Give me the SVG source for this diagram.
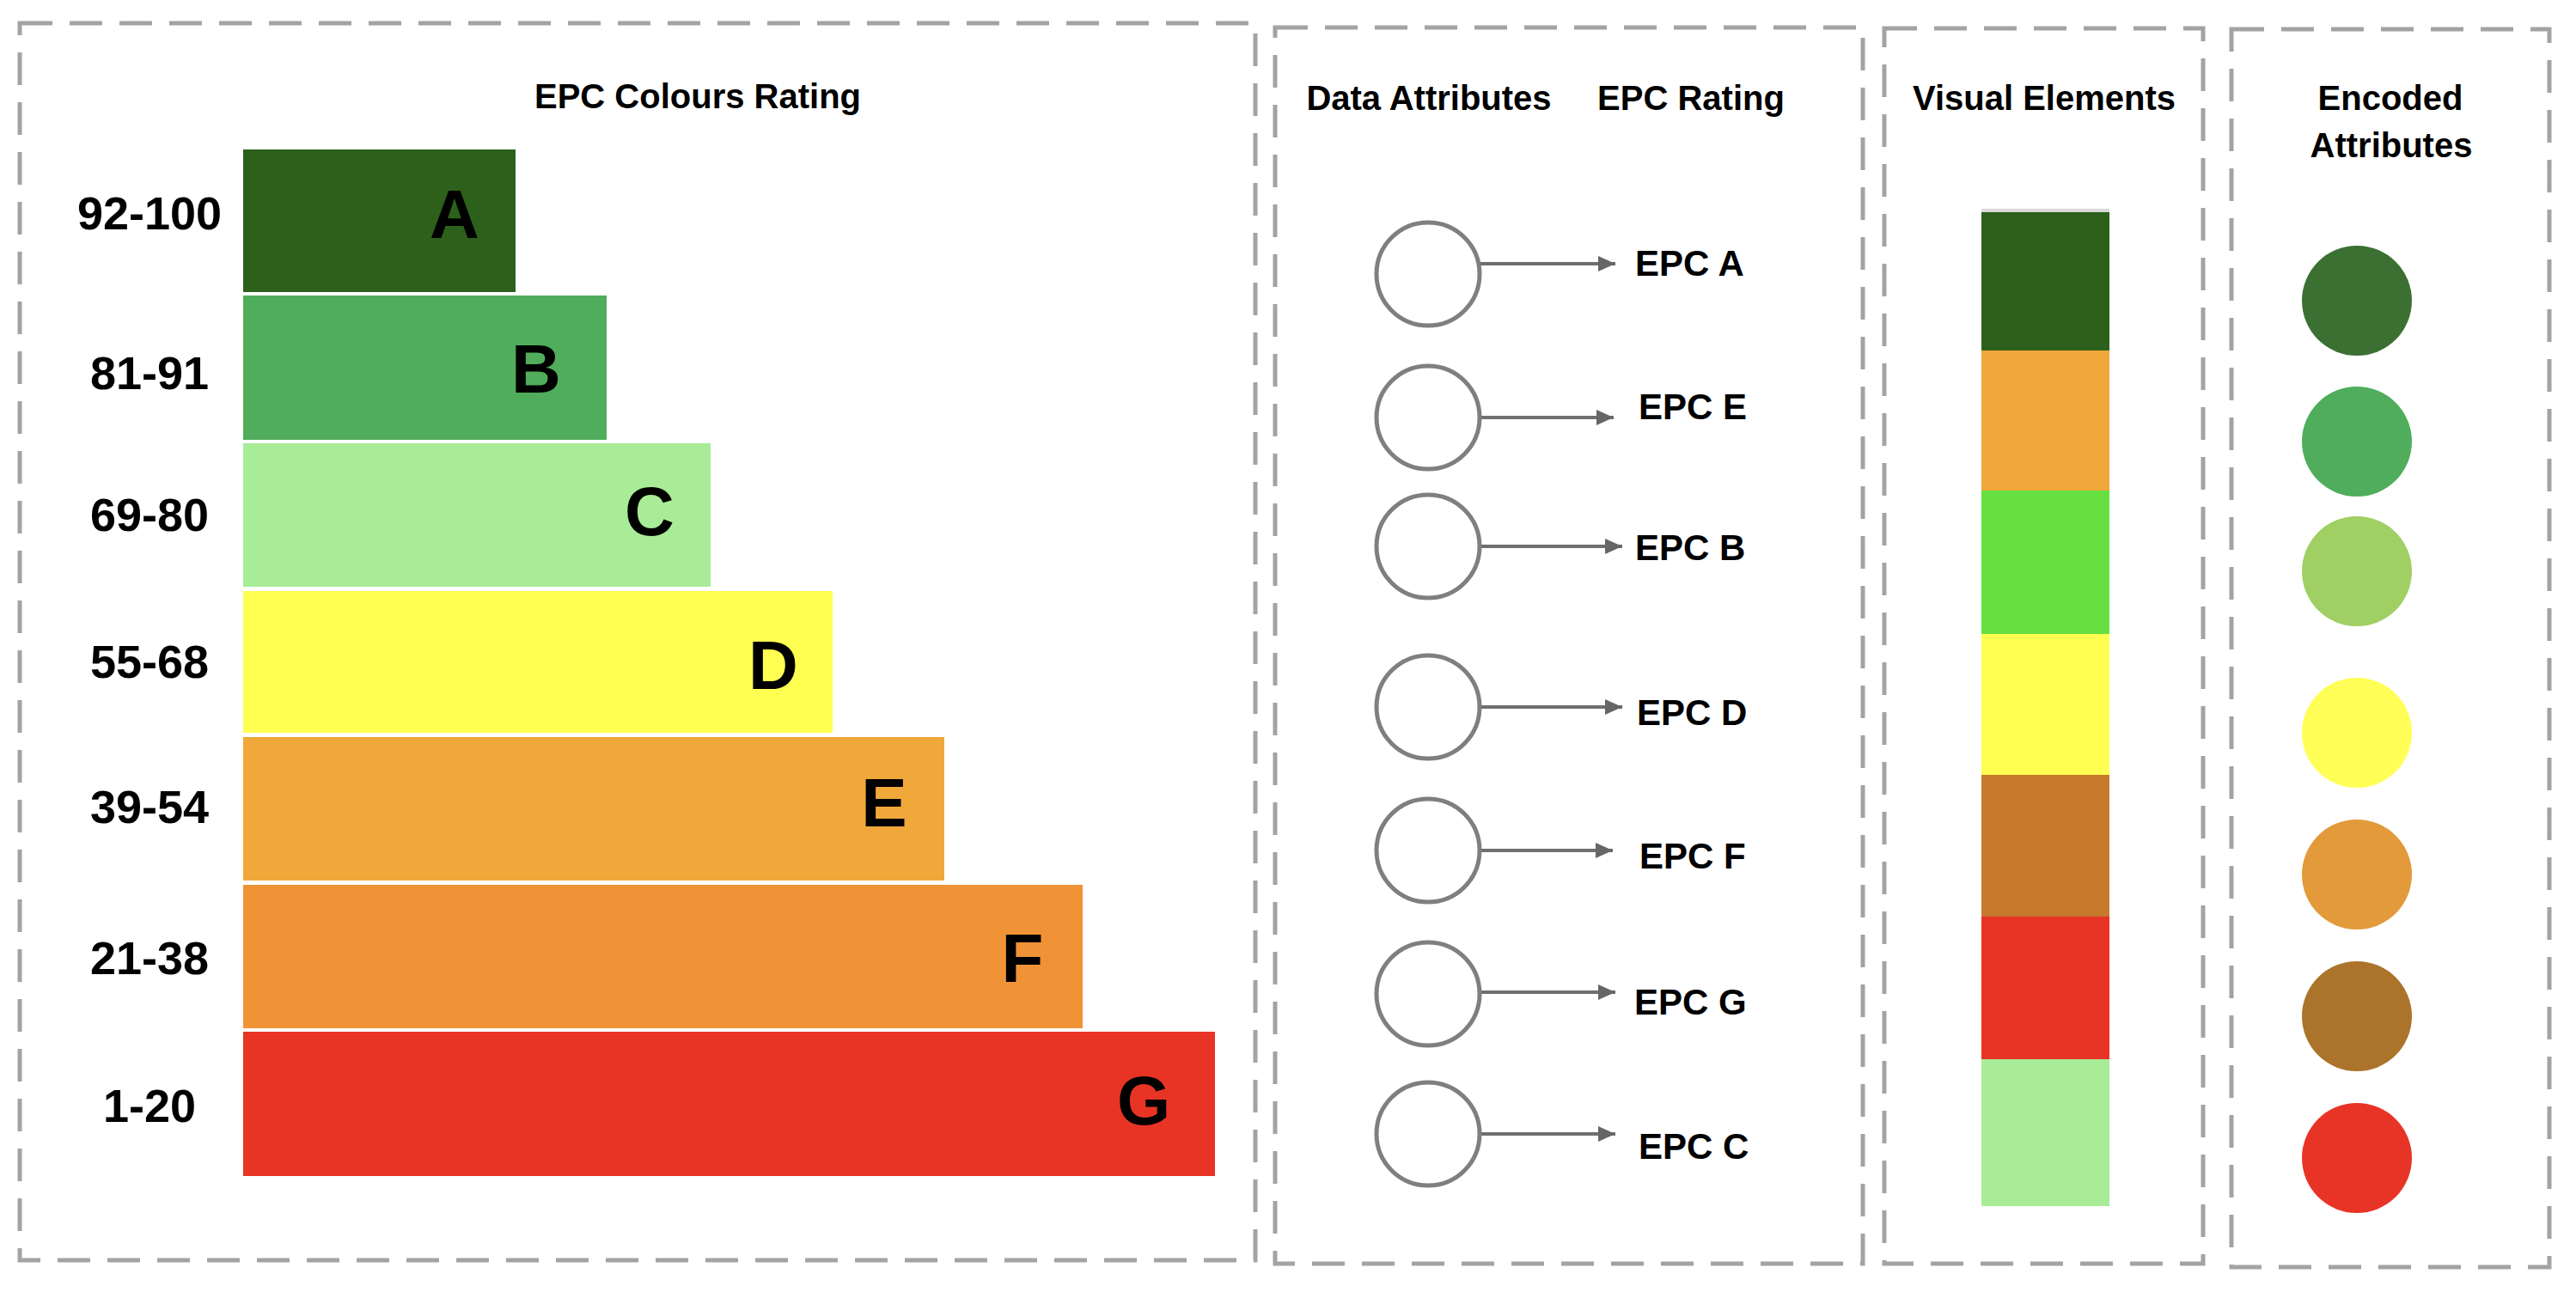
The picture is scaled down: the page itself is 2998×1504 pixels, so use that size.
<svg xmlns="http://www.w3.org/2000/svg" width="2998" height="1504" viewBox="0 0 2998 1504">
<style>
.panel{fill:none;stroke:#a3a3a3;stroke-width:5;stroke-dasharray:38 20}
.hdr{font-family:"Liberation Sans",Arial,sans-serif;font-weight:bold;font-size:40px;fill:#000;text-anchor:middle}
.rng{font-family:"Liberation Sans",Arial,sans-serif;font-weight:bold;font-size:54px;fill:#000;text-anchor:middle}
.let{font-family:"Liberation Sans",Arial,sans-serif;font-weight:bold;font-size:80px;fill:#000;text-anchor:middle}
.lab{font-family:"Liberation Sans",Arial,sans-serif;font-weight:bold;font-size:42px;fill:#000}
.attr{fill:#fff;stroke:#7f7f7f;stroke-width:5}
.conn{stroke:#6f6f6f;stroke-width:4;fill:none}
</style>
<defs>
<marker id="arr" markerUnits="userSpaceOnUse" markerWidth="22" markerHeight="20" refX="20" refY="10" orient="auto">
<path d="M0,1 L20,10 L0,19 Z" fill="#666"/>
</marker>
</defs>
<rect width="2998" height="1504" fill="#fff"/>

<g id="panel-epc-colours">
<rect class="panel" x="23" y="27" width="1438" height="1440"/>
<text class="hdr" x="812" y="126" font-size="38">EPC Colours Rating</text>
</g>
<g id="panel-data-attributes">
<rect class="panel" x="1484" y="32" width="684" height="1439"/>
<text class="hdr" x="1663" y="128">Data Attributes</text>
<text class="hdr" x="1968" y="128">EPC Rating</text>
</g>
<g id="panel-visual-elements">
<rect class="panel" x="2193" y="33" width="371" height="1438"/>
<text class="hdr" x="2379" y="128">Visual Elements</text>
</g>
<g id="panel-encoded-attributes">
<rect class="panel" x="2597" y="34" width="370" height="1441"/>
<text class="hdr" x="2782" y="128">Encoded</text>
<text class="hdr" x="2783" y="183">Attributes</text>
</g>

<g id="bar-A"><rect x="283" y="174" width="317" height="166" fill="#2d601b"/><text class="let" x="529" y="277">A</text><text class="rng" x="174" y="267">92-100</text></g>
<g id="bar-B"><rect x="283" y="344" width="423" height="168" fill="#50ad5c"/><text class="let" x="624" y="457">B</text><text class="rng" x="174" y="453">81-91</text></g>
<g id="bar-C"><rect x="283" y="516" width="544" height="167" fill="#a8ec98"/><text class="let" x="756" y="623">C</text><text class="rng" x="174" y="618">69-80</text></g>
<g id="bar-D"><rect x="283" y="688" width="686" height="165" fill="#ffff52"/><text class="let" x="900" y="802">D</text><text class="rng" x="174" y="789">55-68</text></g>
<g id="bar-E"><rect x="283" y="858" width="816" height="167" fill="#f0a83b"/><text class="let" x="1029" y="962">E</text><text class="rng" x="174" y="958">39-54</text></g>
<g id="bar-F"><rect x="283" y="1030" width="977" height="167" fill="#f09337"/><text class="let" x="1190" y="1143">F</text><text class="rng" x="174" y="1134">21-38</text></g>
<g id="bar-G"><rect x="283" y="1201" width="1131" height="168" fill="#e83425"/><text class="let" x="1331" y="1309">G</text><text class="rng" x="174" y="1306">1-20</text></g>

<g id="attr-1"><circle class="attr" cx="1662" cy="319" r="60"/></g>
<g id="attr-2"><circle class="attr" cx="1662" cy="486" r="60"/></g>
<g id="attr-3"><circle class="attr" cx="1662" cy="636" r="60"/></g>
<g id="attr-4"><circle class="attr" cx="1662" cy="823" r="60"/></g>
<g id="attr-5"><circle class="attr" cx="1662" cy="990" r="60"/></g>
<g id="attr-6"><circle class="attr" cx="1662" cy="1157" r="60"/></g>
<g id="attr-7"><circle class="attr" cx="1662" cy="1320" r="60"/></g>

<g id="label-epc-a"><text class="lab" x="1903" y="321">EPC A</text></g>
<g id="label-epc-e"><text class="lab" x="1907" y="488">EPC E</text></g>
<g id="label-epc-b"><text class="lab" x="1903" y="652">EPC B</text></g>
<g id="label-epc-d"><text class="lab" x="1905" y="844">EPC D</text></g>
<g id="label-epc-f"><text class="lab" x="1908" y="1011">EPC F</text></g>
<g id="label-epc-g"><text class="lab" x="1902" y="1181">EPC G</text></g>
<g id="label-epc-c"><text class="lab" x="1907" y="1349">EPC C</text></g>

<g id="connectors">
<line class="conn" x1="1723" y1="307" x2="1880" y2="307" marker-end="url(#arr)"/>
<line class="conn" x1="1724" y1="486" x2="1878" y2="486" marker-end="url(#arr)"/>
<line class="conn" x1="1724" y1="636" x2="1888" y2="636" marker-end="url(#arr)"/>
<line class="conn" x1="1724" y1="823" x2="1888" y2="823" marker-end="url(#arr)"/>
<line class="conn" x1="1724" y1="990" x2="1877" y2="990" marker-end="url(#arr)"/>
<line class="conn" x1="1724" y1="1155" x2="1880" y2="1155" marker-end="url(#arr)"/>
<line class="conn" x1="1724" y1="1320" x2="1880" y2="1320" marker-end="url(#arr)"/>
</g>

<g id="visual-bar">
<rect x="2306" y="243" width="149" height="5" fill="#d9d9d9"/>
<rect x="2306" y="247" width="149" height="161" fill="#2d601b"/>
<rect x="2306" y="408" width="149" height="163" fill="#f0a83b"/>
<rect x="2306" y="571" width="149" height="167" fill="#66e040"/>
<rect x="2306" y="738" width="149" height="164" fill="#ffff52"/>
<rect x="2306" y="902" width="149" height="165" fill="#c8792c"/>
<rect x="2306" y="1067" width="149" height="166" fill="#e83425"/>
<rect x="2306" y="1233" width="149" height="171" fill="#a8ec98"/>
</g>

<g id="encoded-1"><circle cx="2743" cy="350" r="64" fill="#3c7033"/></g>
<g id="encoded-2"><circle cx="2743" cy="514" r="64" fill="#4fad5b"/></g>
<g id="encoded-3"><circle cx="2743" cy="665" r="64" fill="#a0cf63"/></g>
<g id="encoded-4"><circle cx="2743" cy="853" r="64" fill="#ffff57"/></g>
<g id="encoded-5"><circle cx="2743" cy="1018" r="64" fill="#e39a3a"/></g>
<g id="encoded-6"><circle cx="2743" cy="1183" r="64" fill="#ab742a"/></g>
<g id="encoded-7"><circle cx="2743" cy="1348" r="64" fill="#e83426"/></g>
</svg>
